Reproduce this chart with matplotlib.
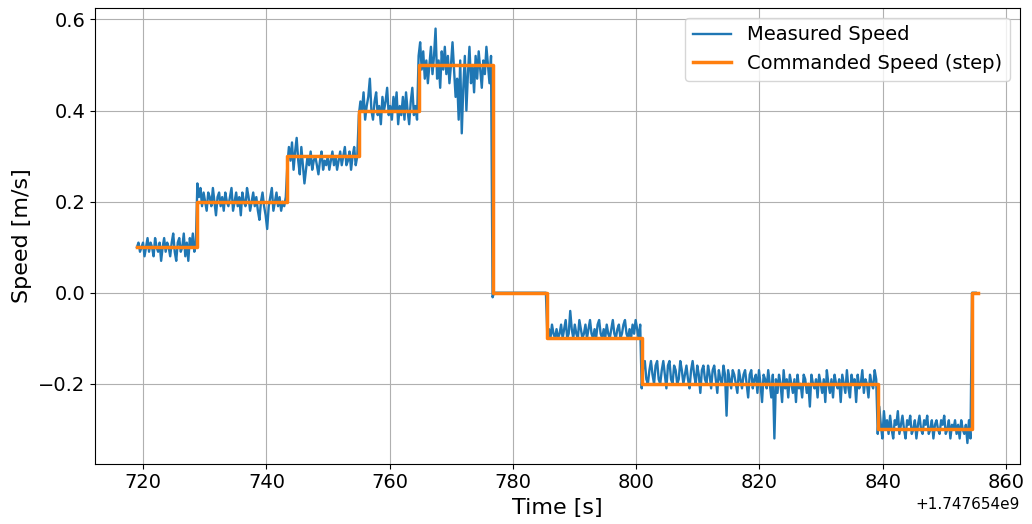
import numpy as np
import matplotlib
matplotlib.use("Agg")
import matplotlib.pyplot as plt

T0 = 1747654000.0

# commanded speed steps (time [s] after T0, level [m/s])
cmd_t = [719.0, 728.8, 743.4, 755.0, 764.7, 776.7, 785.6, 800.9, 839.2, 854.5, 855.4]
cmd_v = [0.1, 0.2, 0.3, 0.4, 0.5, 0.0, -0.1, -0.2, -0.3, 0.0, 0.0]

# measured speed, read per commanded segment
meas_1 = [0.10, 0.11, 0.09, 0.10, 0.11, 0.08, 0.10, 0.12, 0.09, 0.11, 0.10, 0.08, 0.12, 0.10,
          0.09, 0.11, 0.07, 0.10, 0.12, 0.09, 0.11, 0.10, 0.08, 0.11, 0.13, 0.09, 0.07, 0.11,
          0.12, 0.09, 0.10, 0.13, 0.08, 0.11, 0.07, 0.12, 0.10, 0.13, 0.09, 0.11]
meas_2 = [0.24, 0.21, 0.23, 0.19, 0.22, 0.20, 0.18, 0.22, 0.21, 0.19, 0.23, 0.20, 0.17, 0.21,
          0.22, 0.19, 0.21, 0.18, 0.22, 0.20, 0.19, 0.21, 0.23, 0.18, 0.20, 0.22, 0.19, 0.21,
          0.17, 0.22, 0.20, 0.19, 0.23, 0.21, 0.18, 0.20, 0.22, 0.19, 0.21, 0.18, 0.16, 0.20,
          0.22, 0.19, 0.17, 0.14, 0.19, 0.21, 0.23, 0.18, 0.20, 0.22, 0.19, 0.21, 0.18, 0.20,
          0.19, 0.21]
meas_3 = [0.28, 0.32, 0.29, 0.33, 0.27, 0.31, 0.34, 0.29, 0.26, 0.32, 0.28, 0.24, 0.27, 0.30,
          0.28, 0.31, 0.27, 0.29, 0.30, 0.28, 0.26, 0.29, 0.31, 0.27, 0.29, 0.28, 0.30, 0.27,
          0.29, 0.31, 0.28, 0.30, 0.27, 0.29, 0.31, 0.28, 0.30, 0.32, 0.28, 0.29, 0.31, 0.27,
          0.30, 0.32, 0.28, 0.30]
meas_4 = [0.39, 0.42, 0.40, 0.44, 0.38, 0.41, 0.43, 0.47, 0.40, 0.38, 0.42, 0.44, 0.39, 0.41,
          0.37, 0.43, 0.40, 0.42, 0.45, 0.39, 0.41, 0.38, 0.43, 0.40, 0.44, 0.37, 0.41, 0.39,
          0.43, 0.38, 0.44, 0.40, 0.37, 0.42, 0.45, 0.39, 0.41, 0.38]
meas_5 = [0.52, 0.55, 0.49, 0.53, 0.47, 0.51, 0.46, 0.50, 0.54, 0.48, 0.52, 0.58, 0.47, 0.51,
          0.45, 0.53, 0.49, 0.54, 0.48, 0.52, 0.46, 0.50, 0.55, 0.49, 0.43, 0.47, 0.38, 0.51,
          0.35, 0.45, 0.52, 0.40, 0.48, 0.54, 0.46, 0.50, 0.44, 0.52, 0.47, 0.53, 0.49, 0.45,
          0.51, 0.48, 0.54, 0.50, 0.46, 0.52]
meas_6 = [-0.01, 0.00, 0.00, 0.00, 0.00, 0.00, 0.00, 0.00, 0.00, 0.00, 0.00, 0.00, 0.00, 0.00,
          0.00, 0.00, 0.00, 0.00, 0.00, 0.00, 0.00, 0.00, 0.00, 0.00, 0.00, 0.00, 0.00, 0.00,
          0.00, 0.00, 0.00, 0.00, 0.00, 0.00, 0.00, 0.00]
meas_7 = [-0.10, -0.08, -0.10, -0.07, -0.09, -0.10, -0.08, -0.10, -0.09, -0.07, -0.10, -0.08,
          -0.06, -0.10, -0.09, -0.04, -0.08, -0.10, -0.07, -0.09, -0.10, -0.06, -0.08, -0.10,
          -0.09, -0.07, -0.10, -0.08, -0.06, -0.09, -0.10, -0.08, -0.10, -0.07, -0.06, -0.09,
          -0.10, -0.08, -0.10, -0.07, -0.09, -0.10, -0.08, -0.06, -0.09, -0.10, -0.08, -0.07,
          -0.10, -0.09, -0.07, -0.06, -0.09, -0.10, -0.08, -0.10, -0.07, -0.09, -0.06, -0.08,
          -0.10, -0.07]
meas_8 = [-0.21, -0.16, -0.15, -0.19, -0.20, -0.17, -0.15, -0.18, -0.20, -0.16, -0.15, -0.19,
          -0.20, -0.17, -0.15, -0.18, -0.21, -0.16, -0.15, -0.19, -0.20, -0.16, -0.17, -0.20,
          -0.19, -0.15, -0.17, -0.20, -0.18, -0.16, -0.19, -0.21, -0.17, -0.15, -0.18, -0.20,
          -0.16, -0.18, -0.22, -0.17, -0.16, -0.19, -0.20, -0.16, -0.18, -0.21, -0.17, -0.16,
          -0.19, -0.22, -0.17, -0.19, -0.20, -0.16, -0.18, -0.27, -0.17, -0.19, -0.21, -0.17,
          -0.18, -0.20, -0.22, -0.17, -0.19, -0.21, -0.18, -0.17, -0.20, -0.23, -0.18, -0.17,
          -0.21, -0.19, -0.18, -0.22, -0.17, -0.20, -0.24, -0.18, -0.19, -0.21, -0.17, -0.20,
          -0.23, -0.18, -0.32, -0.19, -0.22, -0.18, -0.20, -0.24, -0.17, -0.21, -0.19, -0.23,
          -0.18, -0.20, -0.22, -0.19, -0.24, -0.18, -0.21, -0.20, -0.23, -0.18, -0.19, -0.22,
          -0.20, -0.25, -0.18, -0.20, -0.21, -0.19, -0.23, -0.18, -0.20, -0.22, -0.19, -0.24,
          -0.17, -0.20, -0.22, -0.19, -0.23, -0.18, -0.20, -0.21, -0.19, -0.24, -0.18, -0.20,
          -0.22, -0.17, -0.21, -0.23, -0.18, -0.20, -0.19, -0.24, -0.18, -0.21, -0.20, -0.17,
          -0.22, -0.19, -0.20, -0.23, -0.18, -0.20, -0.21, -0.17, -0.19]
meas_9 = [-0.31, -0.25, -0.29, -0.32, -0.26, -0.30, -0.28, -0.31, -0.27, -0.30, -0.32, -0.28,
          -0.29, -0.26, -0.31, -0.29, -0.27, -0.30, -0.32, -0.28, -0.29, -0.27, -0.31, -0.30,
          -0.28, -0.32, -0.29, -0.27, -0.30, -0.31, -0.28, -0.29, -0.27, -0.31, -0.30, -0.28,
          -0.32, -0.29, -0.28, -0.30, -0.31, -0.28, -0.29, -0.27, -0.31, -0.30, -0.28, -0.32,
          -0.29, -0.30, -0.28, -0.31, -0.29, -0.32, -0.28, -0.30, -0.31, -0.29, -0.33, -0.28,
          -0.32]
meas_10 = [0.00, 0.00, 0.00]

segments = [meas_1, meas_2, meas_3, meas_4, meas_5, meas_6, meas_7, meas_8, meas_9, meas_10]

# spread each segment's samples over its step interval
meas_t = []
meas_v = []
for i, seg in enumerate(segments):
    ts = np.linspace(cmd_t[i], cmd_t[i + 1], len(seg), endpoint=False)
    meas_t.extend(ts)
    meas_v.extend(seg)
meas_t = T0 + np.array(meas_t)
cmd_tt = T0 + np.array(cmd_t)

fig = plt.figure(figsize=(10.32, 5.24), dpi=100)
ax = fig.add_axes([0.092, 0.115, 0.896, 0.87])
ax.plot(meas_t, meas_v, color="#1f77b4", linewidth=1.7, label="Measured Speed")
ax.plot(cmd_tt, cmd_v, color="#ff7f0e", linewidth=2.5, drawstyle="steps-post",
        label="Commanded Speed (step)")
ax.set_xlabel("Time [s]", fontsize=16)
ax.set_ylabel("Speed [m/s]", fontsize=16)
ax.tick_params(labelsize=14)
ax.xaxis.get_offset_text().set_fontsize(11)
ax.grid(True)
ax.legend(loc="upper right", fontsize=14)
fig.savefig("out.png")
